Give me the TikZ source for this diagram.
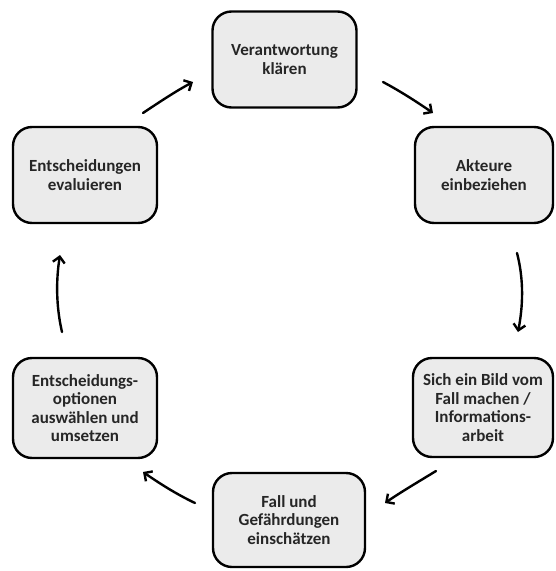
\documentclass[tikz,border=0pt]{standalone}
\usepackage{fontspec}
\setmainfont{Carlito}
\usetikzlibrary{arrows.meta}
\begin{document}
\begin{tikzpicture}[x=1pt,y=-1pt,
  stepbox/.style={draw=black, line width=2.4pt, fill=black!8, rounded corners=19pt,
    align=center, inner sep=2pt, font=\fontsize{17}{18.5}\selectfont\bfseries, text=black!85},
  flow/.style={line width=2.4pt, line cap=round, -{Straight Barb[length=6pt,width=12pt,line width=2.4pt]}}]
\useasboundingbox (0,0) rectangle (556,571);
\node[stepbox, minimum width=144pt, minimum height=96pt] (verant) at (284.5,59.5) {Verantwortung\\klären};
\node[stepbox, minimum width=138pt, minimum height=96pt] (akteure) at (484,175) {Akteure\\einbeziehen};
\node[stepbox, minimum width=140pt, minimum height=99pt] (bild) at (483,407.5) {Sich ein Bild vom\\Fall machen /\\Informations-\\arbeit};
\node[stepbox, minimum width=152pt, minimum height=94pt] (fall) at (289,520) {Fall und\\Gefährdungen\\einschätzen};
\node[stepbox, minimum width=144pt, minimum height=100pt] (optionen) at (85,408) {Entscheidungs-\\optionen\\auswählen und\\umsetzen};
\node[stepbox, minimum width=144pt, minimum height=96pt] (evaluieren) at (85,175) {Entscheidungen\\evaluieren};
\coordinate (a1s) at (143,113); \coordinate (a1e) at (193,82);
\coordinate (a2s) at (383,82); \coordinate (a2e) at (433,113);
\coordinate (a3s) at (517,253); \coordinate (a3e) at (518,332);
\coordinate (a4s) at (436,471); \coordinate (a4e) at (385,503);
\coordinate (a5s) at (195,503); \coordinate (a5e) at (143,472);
\coordinate (a6s) at (62,332); \coordinate (a6e) at (60,255);
\draw[flow] (a1s) .. controls (158,103) and (176,91) .. (a1e);
\draw[flow] (a2s) .. controls (400,91) and (417,102) .. (a2e);
\draw[flow] (a3s) .. controls (524,280) and (523,306) .. (a3e);
\draw[flow] (a4s) .. controls (418,482) and (401,492) .. (a4e);
\draw[flow] (a5s) .. controls (176,494) and (159,483) .. (a5e);
\draw[flow] (a6s) .. controls (56,306) and (56,280) .. (a6e);
\end{tikzpicture}
\end{document}
